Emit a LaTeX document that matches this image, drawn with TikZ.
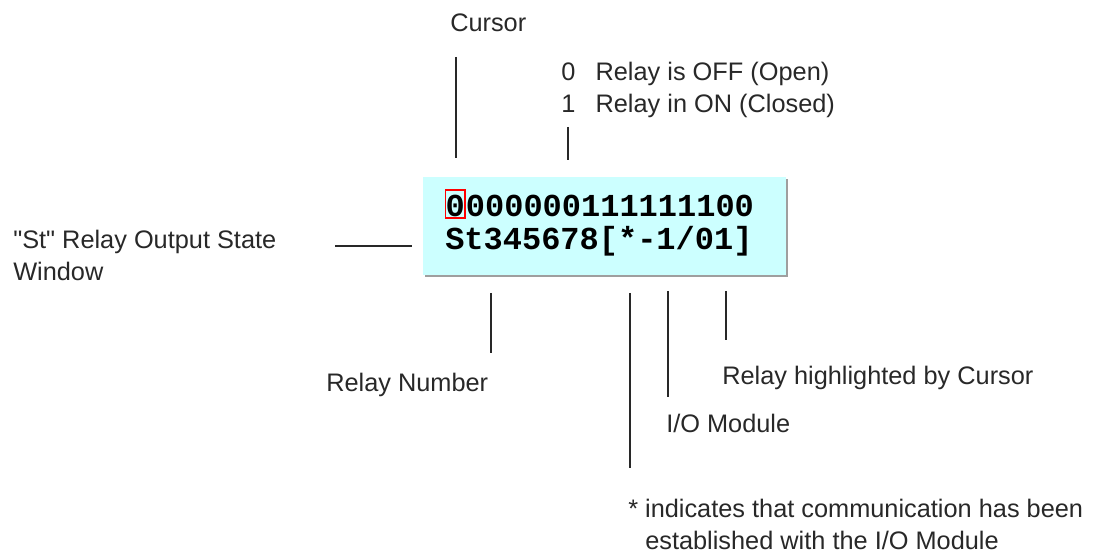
\documentclass[tikz,border=0pt]{standalone}
\usepackage{fontspec}
\setmainfont{Liberation Sans}[Ligatures=TeXOff]
\newfontfamily\relayfont{Liberation Mono}
\usepackage{tikz}
\usetikzlibrary{positioning}
\definecolor{windowcyan}{RGB}{204,255,255}
\definecolor{inkgray}{RGB}{40,40,40}
\tikzset{
  lbl/.style={anchor=base west, inner sep=0pt, text=inkgray, font=\fontsize{19pt}{24pt}\selectfont},
  digits/.style={anchor=base west, inner sep=0pt, font=\relayfont\bfseries\fontsize{24pt}{30pt}\selectfont},
  leader/.style={draw=inkgray, line width=1.1pt},
  windowbox/.style={fill=windowcyan, inner sep=0pt, minimum width=272.25pt, minimum height=73.5pt,
    preaction={fill=gray!75, transform canvas={shift={(1.5pt,-1.5pt)}}}}
}
\begin{document}
\begin{tikzpicture}[x=0.75pt, y=-0.75pt]
            \useasboundingbox (0,0) rectangle (1104,555);
            \node[windowbox] (window) at (604.5,226) {};
            \node[digits, draw=red, line width=1.1pt, text height=20.25pt, text depth=0.75pt] (cur) at (445,217) {0};
            \node[digits] (bits) at (cur.base east) {000000111111100};
            \node[digits] (relaywin) at (445,250) {St345678[*-1/01]};
            \node[lbl] (cursor) at (450,32) {Cursor};
            \node[lbl] (stateoff) at (561,81) {0\hspace{0.8em}Relay is OFF (Open)};
            \node[lbl] (stateon) at (561,113) {1\hspace{0.8em}Relay in ON (Closed)};
            \node[lbl] (stwin) at (13,249) {"St" Relay Output State};
            \node[lbl] (stwin2) at (13,281) {Window};
            \node[lbl] (relaynum) at (326,392) {Relay Number};
            \node[lbl] (highlight) at (722,385) {Relay highlighted by Cursor};
            \node[lbl] (iomod) at (666,433) {I/O Module};
            \node[lbl] (comm) at (628,518) {* indicates that communication has been};
            \node[lbl] (comm2) at (645,550) {established with the I/O Module};
            \foreach \x/\ya/\yb in {456/57/158, 568/127/160, 491/293/353, 630/293/468, 668/291/397, 726/291/340}
              \draw[leader] (\x,\ya) -- (\x,\yb);
            \draw[leader] (335,246) -- (412,246);
\end{tikzpicture}
\end{document}
